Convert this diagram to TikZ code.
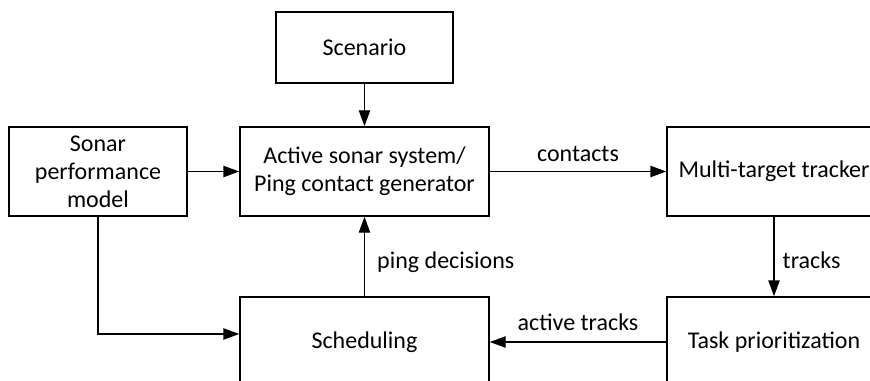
\documentclass[tikz,border=0pt]{standalone}
\usepackage{fontspec}
\setmainfont{Carlito}
\usetikzlibrary{arrows.meta}

\tikzset{
  blockbox/.style={draw, line width=1.1pt, align=center, inner sep=0pt,
    font=\fontsize{18}{21}\selectfont},
  arr/.style={-{Triangle[length=12pt,width=8.5pt]}, line width=1.1pt},
  lbl/.style={font=\fontsize{18}{21}\selectfont, inner sep=0pt}
}

\begin{document}
\begin{tikzpicture}[x=0.75pt,y=0.75pt,yscale=-1]
\useasboundingbox (0,0) rectangle (870,381);
\clip (0,0) rectangle (870,381);

% Blocks
\node[blockbox, minimum width=132.75pt, minimum height=53.25pt] (scen) at (364.5,47.5) {Scenario};
\node[blockbox, minimum width=133.5pt, minimum height=66.75pt] (sonar) at (98,171.5) {Sonar\\performance\\model};
\node[blockbox, minimum width=186.75pt, minimum height=66.75pt] (active) at (364.5,171.5) {Active sonar system/\\Ping contact generator};
\node[blockbox, minimum width=160.5pt, minimum height=66.75pt] (tracker) at (774,171.5) {Multi-target tracker};
\node[blockbox, minimum width=186.75pt, minimum height=67.5pt] (sched) at (364.5,342) {Scheduling};
\node[blockbox, minimum width=160.5pt, minimum height=67.5pt] (task) at (774,342) {Task prioritization};

% Connectors
\draw[arr] (scen) -- (active);
\draw[arr] (sonar) -- (active);
\draw[arr] (active) -- node[lbl, above=7pt] {contacts} (tracker);
\draw[arr] (tracker) -- node[lbl, right=6pt, yshift=-3pt] {tracks} (task);
\draw[arr] (task) -- node[lbl, above=8pt] {active tracks} (sched);
\draw[arr] (sched) -- node[lbl, right=9pt, yshift=-4pt] {ping decisions} (active);
\coordinate (schedin) at ([yshift=-6pt]sched.west);
\draw[arr] (sonar.south) |- (schedin);

\end{tikzpicture}
\end{document}
